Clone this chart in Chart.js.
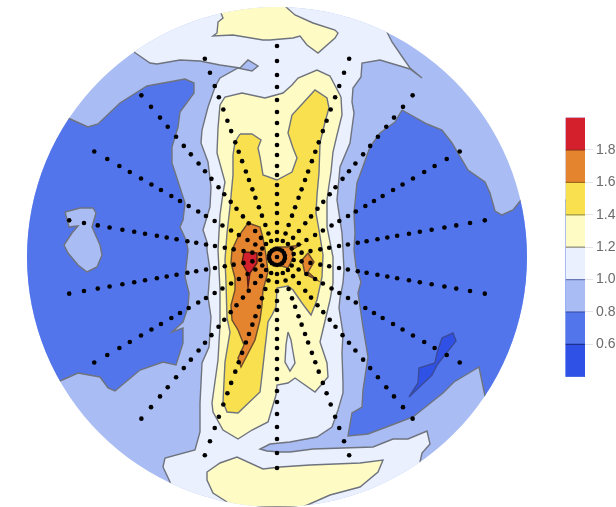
<!DOCTYPE html>
<html>
<head>
<meta charset="utf-8">
<style>html,body{margin:0;padding:0;background:#fff}canvas{display:block;filter:blur(0.4px)}</style>
<script src="https://cdn.jsdelivr.net/npm/chart.js@4/dist/chart.umd.min.js"></script>
</head>
<body>
<canvas id="c" width="616" height="507"></canvas>
<script>
// Colour-bar levels and ticks
const levels = [0.4,0.6,0.8,1.0,1.2,1.4,1.6,1.8,2.0];
const tickValues = [0.6,0.8,1.0,1.2,1.4,1.6,1.8];
const bandColors = ['#2f51e6','#5375ec','#a9bcf3','#eaf0fe','#fffbc4','#f8e04e','#e4842f','#d4202c'];
const lineColors = ['#1f2f90','#34489f','#6a78b8','#8f8f78','#a09a3c','#a0681e','#8a2a18'];
const barX = [565.5,585];
// Head circle
const headCentre = [277,257];
const headRadius = 250;
// Electrode grid
const spokeAngles = [10,30,50,70,90,110,130,150,170,190,210,230,250,270,290,310,330,350];
const spokeRadii = [211,196,182,170,157,145,134,122,112,102,91,82,72,63,53,44,34,25,17,8];
// Contour regions
const regionBase = [[0,0],[585,0],[585,507],[0,507]];
const regionPale = [[134,52],[150,0],[400,0],[387,32],[392,42],[403,58],[410,68],[422,78],[410,69],[380,60],[362,63],[361,77],[353,88],[352,102],[354,113],[350,143],[340,167],[337,200],[340,220],[342,233],[343,250],[344,270],[343,283],[340,298],[339,308],[343,333],[342,353],[343,383],[343,393],[338,410],[332,427],[317,437],[290,442],[270,444],[260,449],[267,451],[280,452],[290,452],[313,449],[373,447],[393,439],[408,439],[427,431],[430,444],[422,453],[420,462],[430,507],[170,507],[170,482],[163,467],[165,458],[195,450],[200,432],[200,403],[202,363],[209,347],[211,317],[208,297],[210,270],[207,250],[207,242],[203,230],[210,207],[211,187],[208,162],[201,143],[202,130],[208,107],[215,87],[220,78],[238,68],[252,71],[258,66],[248,60],[240,68],[220,65],[200,61],[180,60],[157,64],[150,63]];
const regionLeftBlue = [[68,118],[88,127],[98,124],[120,103],[147,86],[185,79],[194,83],[194,93],[180,112],[178,127],[172,147],[172,163],[185,203],[183,220],[180,227],[186,240],[188,250],[185,277],[189,293],[188,307],[183,322],[172,332],[183,328],[183,343],[176,365],[163,362],[140,370],[115,391],[108,388],[100,377],[78,373],[60,381],[0,381],[0,118]];
const regionLeftIsland = [[65,212],[80,208],[93,208],[96,213],[92,227],[100,245],[102,255],[97,267],[87,272],[78,265],[68,253],[64,245],[72,233],[78,226],[69,227]];
const regionRightBlue = [[402,110],[427,124],[442,130],[452,143],[468,170],[485,182],[490,193],[495,211],[502,215],[513,210],[521,200],[585,200],[585,396],[485,396],[479,367],[454,382],[443,393],[413,417],[397,423],[368,434],[348,436],[352,413],[362,407],[363,390],[368,357],[363,327],[358,293],[361,282],[356,267],[354,250],[355,233],[354,213],[357,183],[370,147],[380,133],[395,122]];
const regionDeepBlue = [[409,397],[418,383],[419,368],[435,363],[437,353],[442,338],[453,333],[456,341],[437,365],[432,375]];
const regionTopCap = [[221,13],[223,18],[218,22],[217,33],[213,36],[233,35],[263,40],[270,40],[293,38],[300,36],[307,45],[318,53],[335,38],[338,33],[335,30],[313,23],[295,15],[286,7],[286,0],[221,0]];
const regionBottomCap = [[227,502],[213,493],[207,480],[207,472],[220,463],[237,457],[263,469],[280,467],[310,465],[360,463],[383,460],[378,472],[360,487],[330,495],[305,506],[305,507],[227,507]];
const regionBand = [[341,97],[342,115],[337,135],[333,152],[331,172],[329,185],[327,200],[327,227],[333,257],[333,283],[330,300],[320,342],[327,363],[328,377],[315,392],[295,378],[288,383],[277,385],[276,395],[268,422],[252,430],[238,439],[223,430],[213,412],[212,403],[218,360],[220,325],[220,290],[218,250],[220,215],[223,193],[225,182],[217,153],[218,128],[220,105],[225,97],[242,93],[265,98],[283,93],[292,85],[298,78],[317,70],[330,76]];
const regionBandHole = [[288,332],[291,340],[293,352],[295,363],[290,371],[285,362],[286,345]];
const regionGold = [[240,134],[252,134],[261,140],[258,148],[260,157],[263,175],[277,180],[292,172],[297,158],[293,148],[288,133],[292,115],[315,90],[327,98],[329,108],[325,122],[320,143],[319,173],[317,195],[316,213],[319,230],[323,255],[322,277],[317,300],[311,315],[302,303],[293,290],[288,286],[277,288],[276,307],[272,315],[268,322],[262,375],[260,392],[238,413],[227,412],[223,402],[225,362],[230,332],[227,318],[226,283],[225,260],[227,233],[230,207],[233,175],[233,155],[235,142]];
const regionOrange = [[248,223],[260,227],[263,238],[266,255],[268,272],[263,290],[262,305],[260,320],[255,340],[241,367],[238,358],[244,345],[238,330],[232,320],[231,305],[235,290],[235,278],[231,263],[232,250],[238,237]];
const regionRed = [[244,252],[257,253],[257,263],[250,273],[248,287],[247,272],[242,263]];
const regionCentre = [[275,247],[287,247],[300,245],[292,250],[293,258],[288,268],[278,265],[268,260],[268,252]];
const regionRightSpot = [[308,253],[314,262],[308,272],[317,280],[305,274],[302,260]];

const gray = '#6e737d', brown = '#6b4c2c', darkRed = '#5c1c18', deep = '#3a4a9a';
const regions = [
  [regionBase, bandColors[2], 'rgba(0,0,0,0)'],
  [regionPale, bandColors[3], gray],
  [regionLeftBlue, bandColors[1], gray],
  [regionLeftIsland, bandColors[2], gray],
  [regionRightBlue, bandColors[1], gray],
  [regionDeepBlue, bandColors[0], deep],
  [regionTopCap, bandColors[4], gray],
  [regionBottomCap, bandColors[4], gray],
  [regionBand, bandColors[4], gray],
  [regionBandHole, bandColors[3], gray],
  [regionGold, bandColors[5], gray],
  [regionOrange, bandColors[6], brown],
  [regionRed, bandColors[7], darkRed],
  [regionCentre, bandColors[6], brown],
  [regionRightSpot, bandColors[6], brown]
];

const datasets = [];
function toPoints(list){ return list.concat([list[0]]).map(p => ({x:p[0], y:p[1]})); }
regions.forEach(r => datasets.push({
  data: toPoints(r[0]), showLine:true, fill:'shape', backgroundColor:r[1], borderColor:r[2],
  borderWidth:1.4, pointRadius:0, tension:0, xAxisID:'x', yAxisID:'y'
}));
// Colour bar
bandColors.forEach((col,i) => datasets.push({
  data:[{x:barX[0],y:levels[i]},{x:barX[1],y:levels[i]},{x:barX[1],y:levels[i+1]},{x:barX[0],y:levels[i+1]},{x:barX[0],y:levels[i]}],
  showLine:true, fill:'shape', backgroundColor:col, borderWidth:0, pointRadius:0, xAxisID:'x', yAxisID:'cb'
}));
tickValues.forEach((v,i) => datasets.push({
  data:[{x:barX[0],y:v},{x:barX[1],y:v}], showLine:true, fill:false, borderColor:lineColors[i],
  borderWidth:1.2, pointRadius:0, xAxisID:'x', yAxisID:'cb'
}));
// Electrodes
const electrodes = [{x:headCentre[0], y:headCentre[1]}];
spokeAngles.forEach(a => spokeRadii.forEach(r => electrodes.push({
  x: headCentre[0] + r*Math.cos(a*Math.PI/180),
  y: headCentre[1] - r*Math.sin(a*Math.PI/180)
})));
datasets.push({data:electrodes, showLine:false, pointRadius:2.3, pointBorderWidth:0, pointBackgroundColor:'#000', xAxisID:'x', yAxisID:'y'});
datasets.forEach((d,i) => d.order = datasets.length - i);

const headClip = {
  id:'headClip',
  beforeDatasetsDraw(chart){
    const c = chart.ctx, sx = chart.scales.x, sy = chart.scales.y, sb = chart.scales.cb;
    const px = sx.getPixelForValue(headCentre[0]), py = sy.getPixelForValue(headCentre[1]);
    const pr = sx.getPixelForValue(headCentre[0]+headRadius) - px;
    c.save(); c.beginPath(); c.arc(px,py,pr,0,Math.PI*2); c.closePath();
    const l = sx.getPixelForValue(barX[0]), t = sb.getPixelForValue(levels[8]);
    c.rect(l,t,sx.getPixelForValue(barX[1])-l,sb.getPixelForValue(levels[0])-t);
    c.clip();
  },
  afterDatasetsDraw(chart){ chart.ctx.restore(); }
};

new Chart(document.getElementById('c'), {
  type:'scatter',
  data:{datasets},
  plugins:[headClip],
  options:{
    responsive:false, animation:false, events:[],
    layout:{padding:0, autoPadding:false},
    plugins:{legend:{display:false}, tooltip:{enabled:false}},
    scales:{
      x:{type:'linear', min:0, max:585, display:false},
      y:{type:'linear', min:0, max:507, reverse:true, display:false},
      cb:{
        type:'linear', position:'right', min:-0.404, max:2.726,
        afterBuildTicks(s){ s.ticks = tickValues.map(v => ({value:v})); },
        afterFit(s){ s.width = 31; s.paddingTop = 0; s.paddingBottom = 0; },
        border:{display:false},
        grid:{drawOnChartArea:false, drawTicks:true, tickLength:8, color:'#e2e4ea', lineWidth:1},
        ticks:{padding:3, autoSkip:false, color:'#6b6b6b', font:{family:'"Liberation Sans"', size:14}, callback:v => v.toFixed(1)}
      }
    }
  }
});
</script>
</body>
</html>
